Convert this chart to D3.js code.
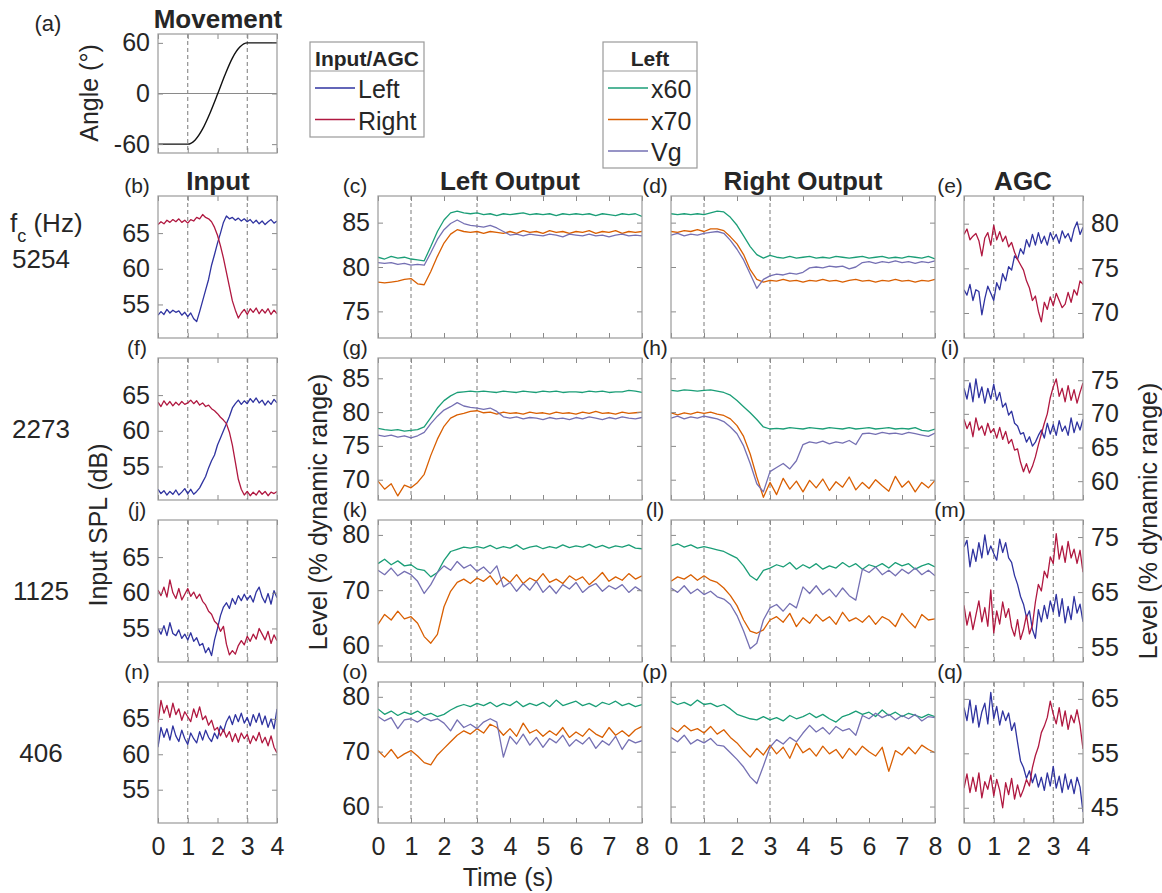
<!DOCTYPE html>
<html>
<head>
<meta charset="utf-8">
<script src="https://cdn.jsdelivr.net/npm/d3@7"></script>
<style>
  body { margin: 0; background: #fff; }
  svg text { font-family: "Liberation Sans", Arial, sans-serif; fill: #262626; }
</style>
</head>
<body>
<div id="fig"></div>
<script>
// ---------------- data ----------------
// sample spacing of the hand-read series (s)
const dtMove = 0.25, dtShort = 0.1, dtLong = 0.2;

const angleMove = [-60,-60,-60,-60,-60,-55,-42,-23,-1,22,42,55,60,60,60,60,60];

const freqLabels = ["5254", "2273", "1125", "406"];
const panelLetters = [["b","c","d","e"], ["f","g","h","i"], ["j","k","l","m"], ["n","o","p","q"]];
const shortTicks = [0, 1, 2, 3, 4];
const longTicks = [0, 1, 2, 3, 4, 5, 6, 7, 8];
const angleTicks = [-60, 0, 60];
const markTimes = [1, 3];
const inputTicks = [55, 60, 65];
const outTicks = [[75, 80, 85], [70, 75, 80, 85], [60, 70, 80], [60, 70, 80]];
const agcTicks = [[70, 75, 80], [60, 65, 70, 75], [55, 65, 75], [45, 55, 65]];

// Input SPL (dB), left / right, every 0.1 s
const inB_L = [53.5,54.0,53.6,54.3,53.8,54.2,53.9,54.1,53.5,53.9,53.3,53.8,53.0,52.6,54.0,55.5,57.0,58.5,60.5,62.0,63.6,65.0,66.5,67.4,67.0,67.2,66.8,67.1,66.7,67.0,66.6,66.9,66.4,66.8,66.3,66.7,66.2,66.6,66.9,66.4,66.7];
const inB_R = [66.2,66.6,66.3,66.8,66.5,66.9,66.6,67.0,66.5,66.8,66.4,66.9,66.7,67.2,67.0,67.6,67.2,67.0,66.6,65.8,64.7,63.2,61.5,59.5,57.5,55.5,54.2,53.1,53.8,54.3,53.6,54.4,53.9,54.5,53.7,54.3,53.8,54.4,53.6,54.2,53.7];
const inF_L = [51.8,51.2,51.6,51.0,51.5,51.1,51.7,51.0,51.4,51.9,51.2,51.8,51.1,51.5,52.0,52.8,53.6,54.8,55.8,56.6,58.0,59.0,60.0,61.0,62.0,63.2,63.8,64.3,63.7,64.2,63.8,64.5,64.0,64.6,63.9,64.3,63.6,64.2,63.7,64.4,63.9];
const inF_R = [64.0,63.4,64.2,63.6,64.1,63.5,64.0,63.6,64.1,63.7,63.9,64.3,63.8,64.2,63.6,63.9,63.4,63.6,63.1,62.8,62.4,61.9,61.5,61.0,59.8,58.0,55.6,53.2,51.8,51.0,51.5,50.9,51.4,51.0,51.6,51.1,51.5,50.9,51.4,51.2,51.5];
const inJ_L = [55.0,54.2,55.4,54.0,55.8,54.3,54.0,54.8,53.6,54.2,53.4,54.4,53.2,53.7,52.6,52.9,51.6,52.3,51.2,53.4,55.0,56.8,58.0,58.6,57.8,59.2,58.4,59.6,58.9,59.8,59.0,59.6,58.7,60.1,60.8,59.4,58.6,59.9,58.4,60.3,59.3];
const inJ_R = [60.4,59.6,60.8,59.4,61.8,60.0,59.2,60.6,59.0,59.8,60.6,59.5,60.1,59.2,59.8,58.8,58.3,57.4,57.0,56.0,55.6,54.6,55.3,52.8,51.3,51.9,51.4,52.6,53.3,52.7,53.9,53.2,54.2,53.5,55.0,54.2,53.4,54.6,52.9,54.1,53.3];
const inN_L = [61.0,63.8,62.4,63.6,62.0,64.0,62.6,61.8,63.4,62.2,61.4,63.0,62.2,61.6,63.2,62.0,63.4,62.4,61.8,63.0,62.2,64.0,63.2,64.6,65.4,64.2,65.6,64.6,65.8,64.4,65.2,64.0,65.6,64.5,65.8,64.2,65.4,63.8,65.0,63.6,66.4];
const inN_R = [64.5,67.6,65.8,66.9,65.2,67.2,65.6,66.4,64.8,66.0,65.3,64.6,66.4,65.2,66.7,64.9,65.4,64.1,64.8,63.4,63.8,62.6,63.5,62.4,63.2,61.8,62.9,61.7,63.0,62.2,62.8,61.5,62.6,61.9,63.1,61.6,62.4,61.2,62.6,61.0,60.2];

// Output level (% dynamic range), x60 / x70 / Vg, every 0.2 s
const outC_x60 = [81.1,80.9,81.2,81.0,81.1,80.9,80.8,80.7,82.3,84.0,85.3,86.1,86.3,86.1,86.0,86.1,85.9,86.0,85.8,86.0,85.9,86.0,86.1,85.9,86.0,85.9,86.0,85.8,86.0,85.9,86.0,85.9,86.0,85.8,86.0,85.9,85.8,86.0,85.9,86.0,85.7];
const outC_x70 = [78.3,78.2,78.3,78.4,78.6,78.7,78.1,78.0,79.5,81.2,82.7,83.7,84.2,84.0,83.9,84.0,83.8,84.0,83.9,83.8,84.0,83.8,84.1,83.9,84.0,83.8,84.1,83.9,84.0,83.8,84.0,83.9,84.1,83.8,84.0,83.9,84.1,83.8,84.0,83.9,84.0];
const outC_vg  = [80.5,80.4,80.5,80.3,80.4,80.2,80.3,80.2,81.6,83.1,84.2,84.9,85.3,84.9,84.7,84.6,84.5,84.7,84.4,84.0,83.6,83.7,83.5,83.7,83.6,83.5,83.7,83.6,83.4,83.7,83.6,83.5,83.7,83.5,83.6,83.4,83.6,83.7,83.5,83.6,83.5];
const outD_x60 = [86.0,85.9,86.0,85.9,86.0,85.9,86.1,86.3,86.2,85.6,84.7,83.5,82.3,81.4,81.0,81.3,81.1,81.0,81.2,81.0,81.1,81.2,81.0,81.1,81.0,81.2,81.1,81.0,81.1,81.2,81.0,81.1,81.2,81.0,81.1,81.0,81.2,81.1,81.0,81.2,80.9];
const outD_x70 = [84.0,83.9,84.1,84.0,84.2,84.0,84.3,84.3,84.1,83.4,82.6,81.4,79.7,78.6,78.3,78.5,78.4,78.6,78.4,78.5,78.3,78.5,78.4,78.6,78.4,78.5,78.3,78.5,78.6,78.4,78.5,78.3,78.5,78.4,78.6,78.4,78.5,78.3,78.5,78.4,78.6];
const outD_vg  = [83.6,83.8,83.5,83.7,83.6,83.8,83.9,84.0,83.8,83.0,82.0,80.8,79.2,77.6,78.6,79.0,79.2,79.1,79.3,79.2,79.4,79.9,80.0,79.9,80.1,80.0,80.1,79.8,80.0,80.5,80.6,80.4,80.6,80.5,80.7,80.5,80.6,80.4,80.6,80.5,80.7];
const outG_x60 = [77.6,77.4,77.3,77.4,77.2,77.3,77.4,77.8,79.2,80.6,81.7,82.4,82.9,83.0,83.1,83.0,83.1,83.0,82.9,83.1,83.0,82.9,83.1,83.0,82.9,83.1,83.0,83.1,82.9,83.0,83.0,82.9,83.1,83.0,83.1,82.9,83.0,83.0,83.2,83.1,82.9];
const outG_x70 = [69.8,68.6,69.4,67.6,69.2,68.8,69.6,70.8,73.6,76.0,77.9,79.1,79.6,79.8,80.1,80.2,79.9,80.0,79.7,80.0,79.8,79.9,79.7,80.0,79.8,79.9,79.7,80.0,79.8,79.9,79.7,80.0,79.8,80.1,79.8,79.9,79.7,80.0,79.8,79.9,80.0];
const outG_vg  = [76.6,76.4,76.6,76.3,76.5,76.2,76.5,77.0,78.3,79.4,80.3,80.8,81.4,80.9,80.7,80.6,80.4,80.6,80.1,79.3,79.1,79.3,79.0,79.2,79.1,78.9,79.2,79.0,79.1,78.9,79.2,79.0,79.3,79.1,78.9,79.2,79.0,79.3,79.1,79.0,79.2];
const outH_x60 = [83.2,83.1,83.3,83.2,83.1,83.2,83.3,83.1,82.9,82.5,81.7,80.8,79.9,78.9,77.8,77.5,77.6,77.5,77.7,77.6,77.5,77.7,77.6,77.5,77.7,77.6,77.5,77.7,77.5,77.6,77.7,77.5,77.6,77.7,77.5,77.6,77.5,77.7,77.3,77.2,77.5];
const outH_x70 = [79.9,79.6,79.9,79.7,80.0,79.8,80.0,79.7,79.5,79.0,78.0,76.4,73.8,70.4,67.4,69.6,67.8,70.2,68.6,69.8,68.2,69.9,68.8,70.1,68.4,69.7,68.9,70.4,68.5,69.6,68.7,70.0,69.1,68.3,70.5,68.9,69.8,68.2,69.6,68.8,69.9];
const outH_vg  = [79.1,79.4,79.0,79.3,79.1,79.4,79.2,79.0,78.6,77.8,76.8,75.0,72.4,69.4,68.2,71.2,71.8,72.4,71.6,72.8,75.2,75.6,75.4,75.7,75.3,75.6,75.4,75.8,75.2,76.8,76.9,76.7,77.0,76.8,76.9,76.7,77.0,76.8,76.6,76.4,76.9];
const outK_x60 = [74.8,75.6,74.6,75.3,74.4,74.6,73.8,73.6,72.4,73.2,75.4,77.0,77.4,77.8,77.6,77.9,77.6,78.1,77.5,77.9,77.6,78.2,77.4,77.8,78.0,77.5,77.9,77.6,78.2,77.7,78.0,77.8,78.3,77.7,78.1,77.6,78.0,77.8,78.2,77.6,77.5];
const outK_x70 = [63.8,65.6,64.6,66.2,64.8,65.2,64.0,61.6,60.4,62.0,67.0,69.8,71.4,72.0,71.2,72.2,71.6,72.6,71.0,72.4,71.4,72.8,71.2,72.2,71.6,73.0,71.4,72.0,71.2,72.6,71.8,72.4,71.0,72.0,73.2,71.6,72.4,71.8,73.0,72.0,72.6];
const outK_vg  = [73.6,72.8,74.0,72.6,73.4,72.8,71.6,69.4,71.0,73.2,74.4,73.6,75.2,74.0,74.6,73.4,74.2,73.0,74.4,70.6,71.4,69.8,71.2,70.0,71.6,69.6,70.8,69.4,71.0,70.2,71.4,69.6,70.6,71.2,69.8,70.8,70.2,71.0,69.6,70.6,69.8];
const outL_x60 = [78.0,78.4,77.8,78.2,77.6,77.9,77.6,77.3,77.0,76.4,75.8,74.4,72.6,71.8,73.6,74.0,74.6,74.2,75.0,73.8,74.6,74.0,74.8,73.8,74.4,74.0,75.0,74.2,74.8,73.8,74.6,74.2,74.8,74.0,75.0,74.4,74.8,73.8,74.4,74.8,74.2];
const outL_x70 = [71.6,72.4,72.0,72.8,71.8,72.6,71.8,71.4,70.4,69.0,67.2,64.6,62.6,62.2,62.8,64.6,65.2,64.2,65.8,63.4,65.0,64.0,65.6,64.4,65.2,63.8,66.0,64.4,65.0,64.2,65.4,63.8,65.2,64.6,63.4,65.8,64.4,63.2,65.6,64.6,64.8];
const outL_vg  = [70.4,69.6,70.8,69.4,70.2,69.2,69.8,68.8,68.4,67.4,65.4,62.6,59.4,60.4,64.6,66.8,67.4,66.2,67.6,66.8,70.6,69.4,70.8,69.2,70.2,68.8,70.4,69.0,68.2,73.8,73.2,74.2,72.8,73.6,72.6,73.8,73.0,74.0,72.8,73.6,72.6];
const outO_x60 = [77.8,76.8,77.4,76.6,77.2,76.8,77.4,76.6,77.0,76.4,76.8,77.6,78.2,78.6,78.2,78.8,78.4,79.0,78.2,78.8,78.4,79.2,78.2,78.8,78.4,79.0,78.2,79.4,78.4,78.8,79.2,78.4,78.8,78.2,79.0,78.6,79.2,78.4,78.8,78.2,78.6];
const outO_x70 = [70.2,69.0,70.4,68.8,69.6,70.2,69.2,68.0,67.6,69.4,70.6,71.8,73.0,73.8,73.2,74.2,73.4,75.0,74.4,73.0,74.2,72.8,75.2,73.4,74.0,72.8,73.8,73.0,74.4,72.6,73.6,72.8,74.2,73.2,72.6,74.4,73.0,73.8,72.8,74.0,74.6];
const outO_vg  = [76.4,75.6,76.2,74.2,75.8,76.0,75.4,76.2,75.6,76.0,75.2,73.8,75.8,74.4,75.0,74.2,75.4,76.0,75.4,69.0,72.8,71.4,73.2,71.2,72.6,70.8,72.4,71.6,73.0,71.0,72.2,71.4,72.6,70.6,72.0,71.2,72.8,70.4,72.2,71.6,72.0];
const outP_x60 = [79.2,78.6,79.0,78.4,79.4,78.6,78.8,78.2,78.6,77.8,76.8,76.4,76.0,75.8,76.4,75.8,76.2,75.6,76.6,76.0,76.4,77.0,76.2,76.8,76.0,75.4,76.4,76.8,77.4,76.8,77.2,76.4,77.6,76.6,77.2,76.4,77.0,76.6,76.2,76.8,76.4];
const outP_x70 = [74.4,73.6,74.8,73.8,74.2,73.4,74.6,73.2,74.0,72.6,71.6,70.2,69.0,70.6,69.4,71.2,69.6,70.8,68.8,71.6,69.8,70.6,69.2,71.0,69.6,70.4,68.8,70.6,69.4,71.0,70.0,69.2,70.8,66.4,70.2,69.4,70.8,69.6,71.2,70.4,69.8];
const outP_vg  = [72.6,71.8,73.0,71.4,72.2,71.6,72.4,71.2,71.0,69.8,68.6,67.2,65.4,64.2,67.4,70.8,72.2,71.4,72.6,71.8,73.4,74.8,73.6,74.4,73.2,74.6,73.8,74.2,73.0,76.6,76.0,77.0,76.2,76.8,75.8,76.6,76.0,76.8,75.6,76.4,76.2];

// AGC level (% dynamic range), left / right, every 0.1 s
const agcE_L = [72.6,72.0,73.2,71.4,72.6,72.4,69.8,71.6,73.0,72.2,71.4,73.4,72.6,74.4,73.6,75.2,74.8,76.4,76.0,77.2,76.6,78.2,77.4,78.8,77.6,79.0,77.8,78.6,77.6,79.0,78.2,78.8,77.8,79.2,78.4,78.9,78.0,79.4,80.2,78.8,79.6];
const agcE_R = [78.8,79.4,78.2,78.6,78.9,78.1,76.4,78.4,79.0,77.6,79.8,78.2,79.1,78.0,78.6,77.4,77.9,76.8,76.0,75.4,74.8,73.6,72.8,71.4,71.9,70.2,69.0,71.2,70.4,71.8,70.8,72.2,71.4,70.6,71.0,72.3,71.2,72.6,72.0,73.6,73.2];
const agcI_L = [73.8,72.2,74.6,71.8,75.2,72.4,74.0,71.6,73.8,72.2,74.4,72.0,73.2,71.0,71.6,69.8,70.4,68.6,68.2,67.0,67.2,65.8,66.6,65.2,65.8,66.8,67.6,66.4,68.6,67.0,68.4,66.8,69.0,67.4,68.2,66.8,69.4,67.2,68.8,67.6,69.2];
const agcI_R = [69.2,67.8,68.8,66.6,69.4,67.6,68.2,66.8,68.6,67.2,67.8,66.4,68.0,66.2,67.4,65.6,66.2,64.6,64.8,62.8,61.4,62.6,61.2,62.2,63.6,65.4,67.0,68.6,70.0,72.4,74.0,75.2,72.6,73.8,71.8,74.2,72.0,73.6,71.6,73.2,74.6];
const agcM_L = [73.2,74.4,69.6,72.8,70.6,74.0,71.2,75.4,71.8,73.4,72.0,70.8,74.6,72.2,74.0,71.2,70.4,68.0,66.4,64.2,62.8,60.4,61.6,58.2,56.6,61.8,59.6,62.6,60.2,63.4,61.4,64.6,60.6,63.8,59.4,62.4,60.0,64.2,61.2,62.8,59.6];
const agcM_R = [62.6,59.0,61.4,58.2,60.8,63.4,59.6,62.2,58.8,65.4,57.6,61.6,59.2,63.2,60.4,62.0,58.6,57.0,60.0,56.4,58.2,60.8,57.4,59.0,63.2,66.4,65.2,68.8,67.6,71.4,70.2,75.6,71.0,73.4,70.4,74.2,71.2,72.8,70.2,72.6,68.6];
const agcQ_L = [63.4,61.0,64.8,60.6,63.8,59.8,62.6,64.2,60.4,66.2,61.4,63.6,60.2,62.8,61.0,62.4,59.2,60.6,57.0,53.6,52.4,50.4,51.8,49.6,51.2,48.8,50.6,48.2,51.4,49.0,52.6,48.6,50.8,47.8,51.2,48.4,50.2,47.6,50.6,48.8,44.2];
const agcQ_R = [48.6,51.2,47.8,50.6,48.0,51.4,46.8,49.8,48.4,51.0,47.2,50.2,48.2,45.0,49.6,47.4,50.4,46.6,49.2,47.0,48.4,50.2,49.0,52.4,54.6,56.2,58.8,60.0,61.6,64.6,62.2,60.4,63.4,60.0,62.8,59.4,62.0,60.6,63.0,60.2,55.8];

// ---------------- layout ----------------
const W = 1162, H = 893;
const colL = "#2f33a0", colR = "#b01840";
const colX60 = "#1b9e77", colX70 = "#d95f02", colVg = "#7570b3";
const boxCol = "#9a9a9a", tickCol = "#8a8a8a", markCol = "#7a7a7a";
const tickFont = 25;

const cols = {
  input: [158, 277],
  left: [378, 642],
  right: [671, 935],
  agc: [964, 1083]
};
const rowY = [[196, 338], [358, 500], [520, 662], [682, 823]];
const inputDom = [50.3, 70.2];
const outDoms = [[72, 88], [67, 88], [57, 82.7], [57, 82.7]];
const agcDoms = [[67.2, 83.1], [57.2, 78.3], [52.3, 78.1], [42.2, 68.1]];

const rows = [
  { input: [inB_L, inB_R], left: [outC_x60, outC_x70, outC_vg], right: [outD_x60, outD_x70, outD_vg], agc: [agcE_L, agcE_R] },
  { input: [inF_L, inF_R], left: [outG_x60, outG_x70, outG_vg], right: [outH_x60, outH_x70, outH_vg], agc: [agcI_L, agcI_R] },
  { input: [inJ_L, inJ_R], left: [outK_x60, outK_x70, outK_vg], right: [outL_x60, outL_x70, outL_vg], agc: [agcM_L, agcM_R] },
  { input: [inN_L, inN_R], left: [outO_x60, outO_x70, outO_vg], right: [outP_x60, outP_x70, outP_vg], agc: [agcQ_L, agcQ_R] }
];

const svg = d3.select("#fig").append("svg").attr("width", W).attr("height", H);
svg.append("rect").attr("width", W).attr("height", H).attr("fill", "#fff");
const defs = svg.append("defs");
let clipN = 0;

// plain hyphen for negatives, as in the original figure
const numFmt = d => String(d);

function styleAxis(sel) {
  sel.select(".domain").remove();
  sel.selectAll(".tick line").attr("stroke", tickCol);
  sel.selectAll(".tick text").attr("font-size", tickFont).attr("fill", "#262626");
}

function panel(x0, x1, y0, y1, xTicks, yDom, yTicks, opt) {
  const x = d3.scaleLinear().domain([0, d3.max(xTicks)]).range([x0, x1]);
  const y = d3.scaleLinear().domain(yDom).range([y1, y0]);
  const g = svg.append("g");
  const id = "clip" + (clipN++);
  defs.append("clipPath").attr("id", id).append("rect")
    .attr("x", x0).attr("y", y0).attr("width", x1 - x0).attr("height", y1 - y0);

  g.selectAll("line.mark").data(markTimes).join("line")
    .attr("x1", d => x(d)).attr("x2", d => x(d))
    .attr("y1", y0).attr("y2", y1)
    .attr("stroke", markCol).attr("stroke-width", 1).attr("stroke-dasharray", "4,3");

  if (opt.zeroLine) {
    g.append("line").attr("x1", x0).attr("x2", x1).attr("y1", y(0)).attr("y2", y(0))
      .attr("stroke", "#8a8a8a").attr("stroke-width", 1.2);
  }

  const lines = g.append("g").attr("clip-path", `url(#${id})`);
  opt.series.forEach(s => {
    const line = d3.line().x((d, i) => x(i * s.dt)).y(d => y(d));
    if (s.curve) line.curve(s.curve);
    lines.append("path").datum(s.values)
      .attr("fill", "none").attr("stroke", s.color)
      .attr("stroke-width", s.width || 1.3).attr("stroke-linejoin", "round")
      .attr("d", line);
  });

  const noLab = () => "";
  g.append("g").attr("transform", `translate(${x0},0)`)
    .call(d3.axisLeft(y).tickValues(yTicks).tickSizeInner(-5).tickSizeOuter(0).tickPadding(8)
      .tickFormat(opt.yLabels === "left" ? numFmt : noLab))
    .call(styleAxis);
  g.append("g").attr("transform", `translate(${x1},0)`)
    .call(d3.axisRight(y).tickValues(yTicks).tickSizeInner(-5).tickSizeOuter(0).tickPadding(8)
      .tickFormat(opt.yLabels === "right" ? numFmt : noLab))
    .call(styleAxis);
  g.append("g").attr("transform", `translate(0,${y1})`)
    .call(d3.axisBottom(x).tickValues(xTicks).tickSizeInner(-5).tickSizeOuter(0).tickPadding(14)
      .tickFormat(opt.xLabels ? numFmt : noLab))
    .call(styleAxis);
  g.append("g").attr("transform", `translate(0,${y0})`)
    .call(d3.axisTop(x).tickValues(xTicks).tickSizeInner(-5).tickSizeOuter(0).tickFormat(noLab))
    .call(styleAxis);

  g.append("rect").attr("x", x0).attr("y", y0).attr("width", x1 - x0).attr("height", y1 - y0)
    .attr("fill", "none").attr("stroke", boxCol).attr("stroke-width", 1.2);
  return { x, y };
}

function txt(x, y, s, o) {
  o = o || {};
  return svg.append("text").attr("x", x).attr("y", y)
    .attr("font-size", o.size || tickFont)
    .attr("font-weight", o.bold ? "bold" : null)
    .attr("text-anchor", o.anchor || "middle")
    .text(s);
}

// ---------------- panel (a): movement ----------------
panel(158, 277, 34, 153, shortTicks, [-70.5, 70.5], angleTicks, {
  yLabels: "left", xLabels: false, zeroLine: true,
  series: [{ values: angleMove, dt: dtMove, color: "#111", width: 1.4, curve: d3.curveMonotoneX }]
});
txt(218, 28, "Movement", { size: 26, bold: true });
txt(48, 31, "(a)", { size: 22 });
svg.append("text").attr("transform", "translate(98,93) rotate(-90)")
  .attr("text-anchor", "middle").attr("font-size", tickFont).text("Angle (°)");

// ---------------- legends ----------------
function legend(x0, y0, w, h, title, items) {
  const g = svg.append("g");
  g.append("rect").attr("x", x0).attr("y", y0).attr("width", w).attr("height", h)
    .attr("fill", "#fff").attr("stroke", boxCol).attr("stroke-width", 1.2);
  g.append("line").attr("x1", x0).attr("x2", x0 + w).attr("y1", y0 + 29).attr("y2", y0 + 29)
    .attr("stroke", boxCol).attr("stroke-width", 1.2);
  g.append("text").attr("x", x0 + w / 2).attr("y", y0 + 24).attr("text-anchor", "middle")
    .attr("font-size", 21).attr("font-weight", "bold").text(title);
  items.forEach((it, i) => {
    const yy = y0 + 46 + i * 31.5;
    g.append("line").attr("x1", x0 + 5).attr("x2", x0 + 45).attr("y1", yy).attr("y2", yy)
      .attr("stroke", it.color).attr("stroke-width", 1.3);
    g.append("text").attr("x", x0 + 48).attr("y", yy + 10).attr("font-size", tickFont).text(it.label);
  });
}
legend(310, 42, 114, 95, "Input/AGC", [{ label: "Left", color: colL }, { label: "Right", color: colR }]);
legend(603, 42, 94, 126, "Left", [{ label: "x60", color: colX60 }, { label: "x70", color: colX70 }, { label: "Vg", color: colVg }]);

// ---------------- grid of panels ----------------
const letterX = [137, 355, 655, 950];
rows.forEach((r, i) => {
  const [y0, y1] = rowY[i];
  const last = i === rows.length - 1;
  panel(cols.input[0], cols.input[1], y0, y1, shortTicks, inputDom, inputTicks, {
    yLabels: "left", xLabels: last,
    series: [{ values: r.input[0], dt: dtShort, color: colL }, { values: r.input[1], dt: dtShort, color: colR }]
  });
  const outSeries = v => [
    { values: v[0], dt: dtLong, color: colX60 },
    { values: v[1], dt: dtLong, color: colX70 },
    { values: v[2], dt: dtLong, color: colVg }
  ];
  panel(cols.left[0], cols.left[1], y0, y1, longTicks, outDoms[i], outTicks[i], {
    yLabels: "left", xLabels: last, series: outSeries(r.left)
  });
  panel(cols.right[0], cols.right[1], y0, y1, longTicks, outDoms[i], outTicks[i], {
    yLabels: null, xLabels: last, series: outSeries(r.right)
  });
  panel(cols.agc[0], cols.agc[1], y0, y1, shortTicks, agcDoms[i], agcTicks[i], {
    yLabels: "right", xLabels: last,
    series: [{ values: r.agc[0], dt: dtShort, color: colL }, { values: r.agc[1], dt: dtShort, color: colR }]
  });
  panelLetters[i].forEach((l, j) => txt(letterX[j], y0 - 3, `(${l})`, { size: 21 }));
  txt(41, [268, 438, 600, 762][i], freqLabels[i], { size: 26 });
});

// column titles
txt(218, 190, "Input", { size: 26, bold: true });
txt(510, 190, "Left Output", { size: 26, bold: true });
txt(803, 190, "Right Output", { size: 26, bold: true });
txt(1023, 190, "AGC", { size: 26, bold: true });

// f_c (Hz) header
const fc = svg.append("text").attr("x", 10).attr("y", 232).attr("font-size", 26);
fc.append("tspan").text("f");
fc.append("tspan").attr("font-size", 18).attr("dy", 10).text("c");
fc.append("tspan").attr("dy", -10).text(" (Hz)");

// axis titles
svg.append("text").attr("transform", "translate(107,525) rotate(-90)")
  .attr("text-anchor", "middle").attr("font-size", tickFont).text("Input SPL (dB)");
svg.append("text").attr("transform", "translate(327,512) rotate(-90)")
  .attr("text-anchor", "middle").attr("font-size", tickFont).text("Level (% dynamic range)");
svg.append("text").attr("transform", "translate(1157,521) rotate(-90)")
  .attr("text-anchor", "middle").attr("font-size", tickFont).text("Level (% dynamic range)");
txt(508, 886, "Time (s)");
</script>
</body>
</html>
